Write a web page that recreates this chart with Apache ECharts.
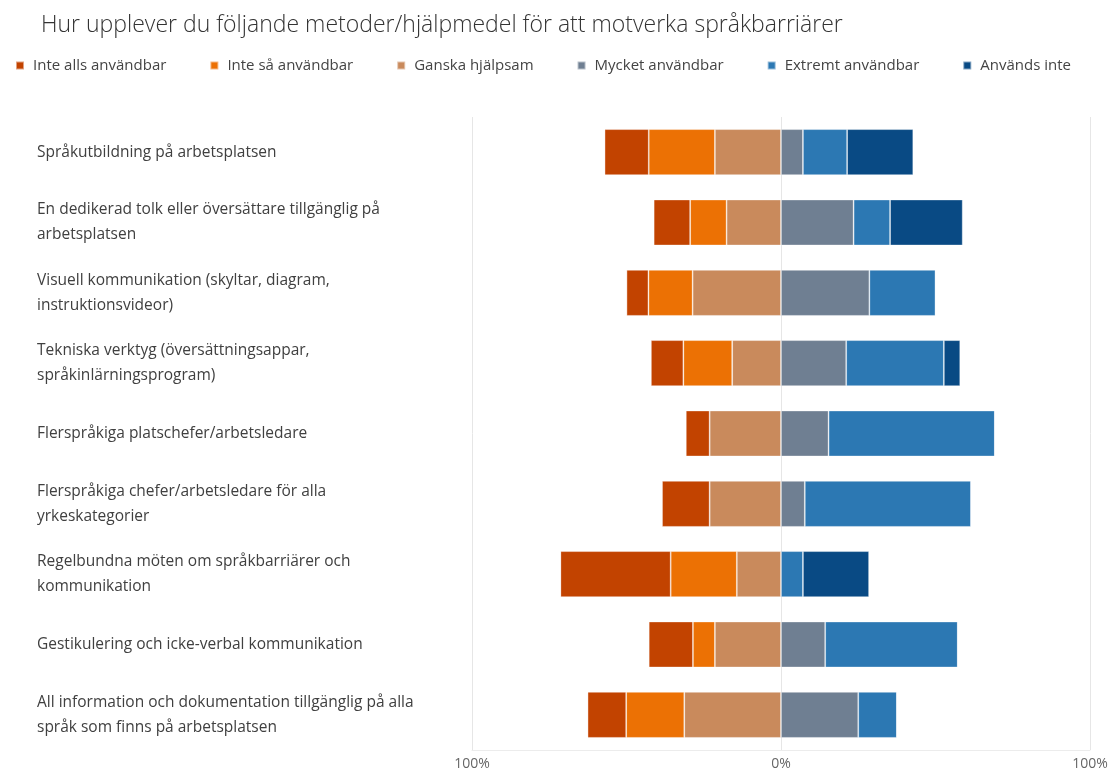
<!DOCTYPE html>
<html>
<head>
<meta charset="utf-8">
<script src="https://cdn.jsdelivr.net/npm/echarts@6/dist/echarts.min.js"></script>
<style>
html,body{margin:0;padding:0;background:#fff;}
#chart{width:1115px;height:774px;}
</style>
</head>
<body>
<div id="chart"></div>
<script>
const categories = [
  "Språkutbildning på arbetsplatsen",
  "En dedikerad tolk eller översättare tillgänglig på\narbetsplatsen",
  "Visuell kommunikation (skyltar, diagram,\ninstruktionsvideor)",
  "Tekniska verktyg (översättningsappar,\nspråkinlärningsprogram)",
  "Flerspråkiga platschefer/arbetsledare",
  "Flerspråkiga chefer/arbetsledare för alla\nyrkeskategorier",
  "Regelbundna möten om språkbarriärer och\nkommunikation",
  "Gestikulering och icke-verbal kommunikation",
  "All information och dokumentation tillgänglig på alla\nspråk som finns på arbetsplatsen"
];
const seriesNames = ["Inte alls användbar", "Inte så användbar", "Ganska hjälpsam", "Mycket användbar", "Extremt användbar", "Används inte"];
const inteAlls    = [14.3, 11.8,  7.1, 10.5,  7.7, 15.4, 35.7, 14.3, 12.5];
const inteSa      = [21.4, 11.8, 14.3, 15.8,  0,    0,   21.4,  7.1, 18.8];
const ganska      = [21.4, 17.6, 28.6, 15.8, 23.1, 23.1, 14.3, 21.4, 31.3];
const mycket      = [ 7.1, 23.5, 28.6, 21.1, 15.4,  7.7,  0,   14.3, 25.0];
const extremt     = [14.3, 11.8, 21.4, 31.6, 53.8, 53.8,  7.1, 42.9, 12.5];
const anvandsInte = [21.4, 23.5,  0,    5.3,  0,    0,   21.4,  0,    0];
const xTicks = [-100, 0, 100];

const colors = {
  "Inte alls användbar": "#C24300",
  "Inte så användbar": "#EC7104",
  "Ganska hjälpsam": "#C98A5C",
  "Mycket användbar": "#6F7F92",
  "Extremt användbar": "#2C78B3",
  "Används inte": "#094A84"
};

function mk(name, data, neg) {
  return {
    name: name,
    type: 'bar',
    stack: 'total',
    barWidth: 46,
    itemStyle: { color: colors[name], borderColor: 'rgba(255,255,255,0.5)', borderWidth: 0.8 },
    emphasis: { disabled: true },
    data: data.map(v => neg ? -v : v)
  };
}

const chart = echarts.init(document.getElementById('chart'));
chart.setOption({
  animation: false,
  textStyle: { fontFamily: 'Open Sans' },
  title: {
    text: 'Hur upplever du följande metoder/hjälpmedel för att motverka språkbarriärer',
    left: 36, top: 9,
    textStyle: { fontFamily: 'Open Sans', fontWeight: 300, fontSize: 23, color: '#333' }
  },
  legend: {
    data: seriesNames,
    left: 10, top: 53,
    itemWidth: 8, itemHeight: 8, itemGap: 43,
    icon: 'rect',
    textStyle: { fontFamily: 'Open Sans', fontSize: 15, color: '#444', padding: [0, 0, 0, 4] }
  },
  grid: { left: 472, right: 25, top: 117, bottom: 24, containLabel: false },
  xAxis: {
    type: 'value', min: -100, max: 100, interval: 100,
    axisLine: { show: true, lineStyle: { color: '#ececec' } },
    axisTick: { show: false },
    splitLine: { show: true, lineStyle: { color: '#e6e6e6' } },
    axisLabel: {
      color: '#666', fontSize: 14, margin: 7,
      formatter: v => xTicks.includes(v) ? Math.abs(v) + '%' : ''
    }
  },
  yAxis: {
    type: 'category', inverse: true, data: categories,
    axisLine: { show: false }, axisTick: { show: false },
    axisLabel: {
      align: 'left', margin: 435, color: '#404040', fontSize: 15.5, lineHeight: 25,
      fontFamily: 'Open Sans'
    }
  },
  series: [
    mk("Ganska hjälpsam", ganska, true),
    mk("Inte så användbar", inteSa, true),
    mk("Inte alls användbar", inteAlls, true),
    mk("Mycket användbar", mycket, false),
    mk("Extremt användbar", extremt, false),
    mk("Används inte", anvandsInte, false)
  ]
});
</script>
</body>
</html>
